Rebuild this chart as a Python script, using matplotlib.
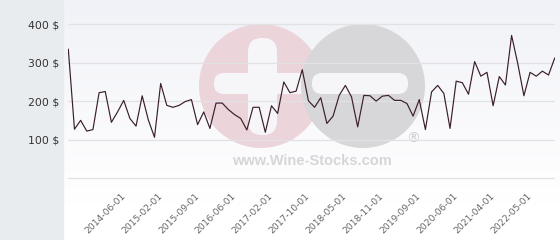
import matplotlib
matplotlib.use('Agg')
import matplotlib.pyplot as plt
import numpy as np
from matplotlib.patches import Circle, FancyBboxPatch, Rectangle
from matplotlib.colors import to_rgb

# ---- data ----
values = [335, 127, 150, 122, 126, 222, 225, 145, 172, 202, 155, 135, 214, 151, 106, 246, 189, 184, 189, 199,
          204, 139, 172, 129, 195, 195, 178, 165, 155, 125, 184, 184, 119, 188, 168, 250, 222, 226, 282, 201,
          184, 209, 142, 161, 215, 241, 211, 133, 215, 214, 200, 213, 215, 202, 202, 194, 161, 204, 126, 224,
          241, 220, 129, 252, 248, 218, 303, 265, 275, 188, 264, 242, 371, 298, 214, 275, 265, 278, 268, 312]
tick_labels = ['2014-06-01', '2015-02-01', '2015-09-01', '2016-06-01', '2017-02-01', '2017-10-01',
               '2018-05-01', '2018-11-01', '2019-09-01', '2020-06-01', '2021-04-01', '2022-05-01']
tick_positions = list(range(9, 9 + 6 * len(tick_labels), 6))
y_ticks = [0, 100, 200, 300, 400]
y_tick_labels = ['', '100 $', '200 $', '300 $', '400 $']

W, H = 560, 240
fig = plt.figure(figsize=(W / 100, H / 100), dpi=100)

# ---- background + watermark (pixel coordinates) ----
bg = fig.add_axes([0, 0, 1, 1])
bg.set_xlim(0, W)
bg.set_ylim(H, 0)
bg.axis('off')
top = np.array(to_rgb('#f1f2f7'))
bot = np.array(to_rgb('#ffffff'))
t = np.clip(np.linspace(0, 1, H) / 0.85, 0, 1)[:, None, None]
grad = top * (1 - t) + bot * t
bg.imshow(grad, extent=[63, W, H, 0], aspect='auto', zorder=0)
bg.add_patch(Rectangle((0, 0), 63, H, color='#e8ecef', zorder=1))

bg.add_patch(Circle((261, 86), 62, fc='#ecd4db', ec='none', zorder=2))
hole = '#f6f6f9'
bg.add_patch(FancyBboxPatch((248, 38), 29, 97, boxstyle='round,pad=0,rounding_size=14',
                            fc=hole, ec='none', zorder=3))
bg.add_patch(FancyBboxPatch((214, 73), 96, 21, boxstyle='round,pad=0,rounding_size=10',
                            fc=hole, ec='none', zorder=3))
bg.add_patch(Circle((363, 86), 62, fc='#d7d7da', ec='none', zorder=4))
bg.add_patch(FancyBboxPatch((312, 73), 96, 21, boxstyle='round,pad=0,rounding_size=10',
                            fc=hole, ec='none', zorder=5))
bg.text(312, 161, 'www.Wine-Stocks.com', ha='center', va='center', fontsize=10.5,
        fontweight='bold', color='#d6d6d8', family='Liberation Sans', zorder=5)
bg.text(413, 139, '®', ha='center', va='center', fontsize=10, color='#d0d0d3',
        family='DejaVu Sans', zorder=5)

# ---- plot axes ----
px_per_unit = (178 - 24.3) / 400
bottom_extra = 7
ax_h = 178 + bottom_extra
ax = fig.add_axes([68 / W, (H - ax_h) / H, 487 / W, ax_h / H])
ax.patch.set_alpha(0)
ax.set_ylim(-bottom_extra / px_per_unit, 178 / px_per_unit)
ax.set_xlim(-0.05, len(values) - 1 + 0.05)
ax.plot(range(len(values)), values, color='#3a1e2a', lw=0.85, zorder=3)

ax.set_yticks(y_ticks)
ax.set_yticklabels(y_tick_labels, fontsize=7.8, color='#333333')
ax.tick_params(axis='y', length=0, pad=6.5)
ax.grid(axis='y', color='#e2e2e4', lw=0.9)
ax.set_axisbelow(True)
ax.set_xticks(tick_positions)
ax.set_xticklabels(tick_labels, fontsize=6.6, color='#666666')
ax.tick_params(axis='x', length=0, pad=7)
for lbl in ax.get_xticklabels():
    lbl.set_rotation(45)
    lbl.set_ha('right')
    lbl.set_va('center')
    lbl.set_rotation_mode('anchor')
for s in ax.spines.values():
    s.set_visible(False)

fig.savefig('out.png', dpi=100)
